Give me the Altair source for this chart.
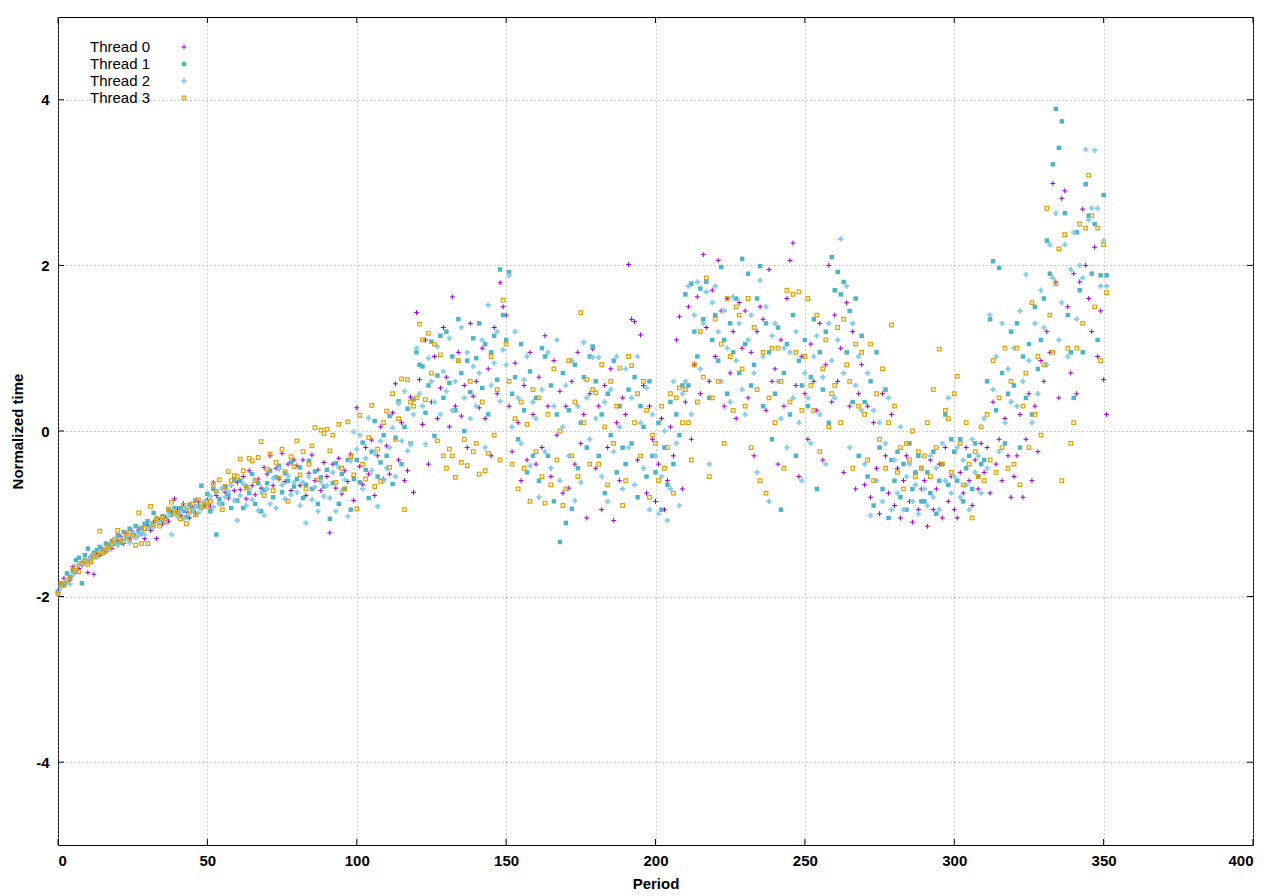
import altair as alt
import pandas as pd

thread_names = ["Thread 0", "Thread 1", "Thread 2", "Thread 3"]
periods = list(range(352))
x_ticks = [0, 50, 100, 150, 200, 250, 300, 350, 400]
y_ticks = [-4, -2, 0, 2, 4]

t0 = [
    -1.93, -1.87, -1.78, -1.83, -1.80, -1.64, -1.70, -1.66, -1.62, -1.58,
    -1.71, -1.52, -1.73, -1.48, -1.50, -1.43, -1.46, -1.38, -1.42, -1.36,
    -1.33, -1.28, -1.36, -1.25, -1.30, -1.22, -1.27, -1.19, -1.24, -1.30,
    -1.14, -1.20, -1.10, -1.30, -1.08, -1.12, -1.05, -1.09, -0.98, -0.82,
    -0.95, -1.02, -0.88, -0.97, -1.05, -0.92, -0.99, -0.86, -0.94, -0.90,
    -0.83, -0.91, -0.62, -0.78, -0.87, -0.70, -0.74, -0.81, -0.66, -0.72,
    -0.62, -0.71, -0.55, -0.82, -0.48, -0.66, -0.77, -0.58, -0.69, -0.44,
    -0.52, -0.30, -0.66, -0.45, -0.58, -0.27, -0.61, -0.40, -0.72, -0.35,
    -0.42, -0.66, -0.35, -0.78, -0.51, -0.29, -0.60, -0.47, -0.72, -0.38,
    -0.55, -1.23, -0.40, -0.69, -0.33, -0.76, -0.48, -0.61, -0.28, -0.84,
    0.28, -0.43, -0.65, -0.20, -0.52, -0.11, -0.78, -0.30, 0.05, -0.58,
    -0.18, -0.52, 0.22, 0.57, -0.35, 0.10, -0.60, -0.48, 0.41, -0.74,
    1.43, 0.62, 0.08, 1.10, -0.40, 0.35, 0.90, 0.15, 0.52, 1.25,
    0.65, 0.05, 1.62, 0.30, 0.95, 0.18, 0.55, -0.20, 1.30, 0.42,
    0.60, 0.28, 1.00, 0.15, 0.75, -0.30, 1.25, 0.45, 1.79, 1.50,
    1.40, 0.30, -0.25, 0.82, 0.10, -0.60, 0.55, -0.35, 0.95, 0.20,
    -0.40, 0.65, -0.20, 1.15, 0.30, -0.55, 0.85, -0.05, 0.48, -0.75,
    0.30, -0.69, 0.60, -0.40, 0.95, -0.15, 0.20, -1.05, 0.45, 0.99,
    -0.45, 0.30, -0.95, 0.55, -0.20, 0.75, -1.08, 0.10, -0.60, 0.40,
    0.20, 2.01, 1.35, 1.32, -0.35, 1.16, 0.55, -0.75, 0.30, -0.10,
    -0.85, -0.40, 0.15, -0.95, -0.60, 0.05, -0.30, 1.10, 1.38, -0.70,
    0.35, 1.50, -0.10, 0.80, 1.62, 0.45, 2.13, 1.25, 0.60, 1.70,
    0.90, 2.06, 1.45, 0.30, 1.60, 0.70, 1.20, 0.15, 1.55, 1.00,
    1.45, 0.40, 0.95, -0.30, 1.20, 1.50, 1.35, 0.25, 1.95, 0.60,
    0.75, -0.40, 1.10, 0.30, 1.60, 2.06, 2.27, 0.55, -0.55, 0.90,
    0.45, -0.10, 1.05, 0.60, 0.25, 1.30, -0.35, 0.80, 2.00, 0.35,
    1.40, 0.60, 1.00, -0.50, 1.55, 0.30, 1.20, -0.70, 0.45, 0.80,
    -0.65, 0.30, -0.80, 0.10, -0.45, -1.00, 0.45, -0.30, -0.75, 0.20,
    -0.90, -0.45, -1.05, -0.60, -0.30, -0.85, -1.10, -0.50, -0.95, -0.70,
    -0.60, -1.15, -0.35, -0.95, -0.70, -0.40, -1.05, -0.20, -0.85, -0.55,
    -0.95, -1.05, -0.50, -0.75, -0.20, -0.60, -0.90, -0.35, -0.70, -0.15,
    -0.50, -0.20, -0.75, 0.35, -0.40, -0.10, -0.60, 0.15, -0.30, -0.80,
    -0.55, -0.30, 0.20, -0.80, -0.10, 0.45, -0.60, 0.30, -0.25, 0.85,
    0.60, 1.20, 0.95, 2.99, 1.80, 0.40, 2.81, 2.90, 1.50, 0.70,
    1.90, 0.45, 1.80, 2.68, 2.00, 1.60, 1.20, 2.22, 0.90, 1.45,
    0.62, 0.20,
]

t1 = [
    -1.95, -1.84, -1.86, -1.72, -1.76, -1.69, -1.56, -1.53, -1.84, -1.50,
    -1.42, -1.55, -1.47, -1.44, -1.40, -1.45, -1.36, -1.39, -1.33, -1.35,
    -1.26, -1.35, -1.22, -1.28, -1.18, -1.24, -1.15, -1.21, -1.17, -1.12,
    -1.09, -1.15, -0.99, -1.06, -1.10, -1.03, -1.07, -0.96, -1.01, -0.93,
    -1.00, -0.93, -0.97, -1.04, -0.89, -0.95, -0.84, -0.91, -0.66, -0.87,
    -0.76, -0.97, -0.70, -1.25, -0.82, -0.88, -0.68, -0.77, -0.93, -0.59,
    -0.84, -0.60, -0.93, -0.67, -0.75, -0.52, -0.88, -0.63, -0.97, -0.71,
    -0.63, -0.48, -0.80, -0.56, -0.42, -0.74, -0.51, -0.60, -0.38, -0.67,
    -0.58, -0.44, -0.81, -0.65, -0.36, -0.70, -0.49, -0.88, -0.56, -0.67,
    -0.47, -1.06, -0.63, -0.39, -0.88, -0.52, -0.70, -0.35, -0.95, -0.58,
    -0.35, -0.62, -0.14, -0.47, -0.81, -0.25, 0.12, -0.55, -0.38, -0.05,
    -0.30, 0.18, -0.64, -0.08, 0.36, -0.40, 0.05, 0.27, -0.15, 0.38,
    0.95, 0.80, 0.78, 0.22, 0.55, 1.08, -0.06, 0.67, 1.15, 0.40,
    1.20, 0.58, 0.90, 0.25, 1.35, 0.70, 0.00, 0.85, 0.47, 1.12,
    0.88, 1.30, 0.52, 1.05, 0.20, 0.95, 1.15, 0.62, 1.95, 1.40,
    1.10, 1.92, 0.45, 0.65, -0.10, 1.05, 0.25, -0.50, 0.72, -0.30,
    0.40, -0.60, 1.00, 0.90, -0.30, 0.55, -0.85, 0.20, -1.34, 0.70,
    -1.11, 0.25, -0.94, 0.80, -0.45, 0.10, 0.65, -0.20, 0.90, 1.02,
    0.60, -0.30, 0.20, -0.75, 0.45, -0.05, 0.85, -0.50, 0.30, -0.20,
    -0.40, 0.50, -0.15, 0.65, -0.80, 0.30, 0.05, -0.55, 0.60, -0.30,
    -0.50, 0.10, -0.95, -0.20, -0.65, 0.35, -0.40, 0.20, -0.05, 0.55,
    1.65, 0.55, 1.78, 1.20, 0.90, 1.72, 1.35, 1.80, 0.40, 1.10,
    1.40, 0.85, 1.98, 1.10, 0.45, 1.30, 0.95, 1.60, 0.70, 2.08,
    1.05, 1.90, 0.55, 0.80, 1.60, 1.99, 0.30, 1.30, 0.95, -0.10,
    0.45, 1.25, -0.95, 0.70, 1.05, 0.20, 1.40, -0.30, 0.85, 0.55,
    1.10, 0.30, 0.65, 1.35, -0.70, 0.95, 0.50, 1.20, 0.10, 2.10,
    1.70, 1.92, 1.65, 1.80, 0.95, 1.45, 0.35, 1.60, -0.30, 1.15,
    0.35, -0.55, 0.60, -0.90, 0.95, -0.20, -0.70, 0.50, -1.05, -0.35,
    -0.60, -0.25, -0.80, -0.40, -0.95, -0.15, -0.70, -0.50, -0.30, -0.85,
    -0.85, -0.50, -0.75, -0.25, -1.00, -0.60, -0.40, 0.20, -0.65, -0.10,
    -0.25, -0.60, -0.10, -0.85, -0.45, -0.30, -0.70, -0.15, -0.55, -0.40,
    -0.35, 0.60, 1.35, 2.05, 0.25, 1.97, 0.70, -0.15, 0.45, 1.20,
    0.55, 1.30, -0.20, 0.90, 0.40, 1.05, 0.20, 1.50, 0.75, 1.10,
    1.60, 2.30, 1.90, 3.22, 3.89, 3.42, 3.74, 2.63, 1.40, 0.95,
    0.40, 2.40, 1.70, 0.95, 2.98, 2.60, 1.90, 2.50, 1.10, 1.88,
    2.85, 1.88,
]

t2 = [
    -1.96, -1.89, -1.82, -1.83, -1.85, -1.74, -1.68, -1.61, -1.59, -1.55,
    -1.57, -1.54, -1.50, -1.53, -1.46, -1.48, -1.41, -1.43, -1.38, -1.33,
    -1.38, -1.31, -1.33, -1.27, -1.35, -1.24, -1.29, -1.26, -1.22, -1.25,
    -1.18, -1.12, -1.16, -1.08, -1.11, -1.05, -1.09, -1.02, -1.25, -0.97,
    -1.03, -0.98, -1.06, -0.94, -1.00, -0.96, -0.91, -0.99, -0.93, -0.85,
    -0.86, -0.79, -0.92, -0.74, -0.88, -0.69, -0.80, -0.73, -0.65, -0.84,
    -1.08, -0.78, -0.64, -0.90, -0.70, -0.83, -0.59, -0.96, -0.74, -1.02,
    -0.70, -0.88, -0.57, -0.93, -0.46, -0.65, -0.82, -0.54, -0.77, -0.62,
    -0.74, -0.90, -0.62, -1.11, -0.55, -0.83, -0.68, -0.97, -0.61, -0.79,
    -0.66, -0.81, -0.50, -0.97, -0.44, -0.72, -0.59, -1.03, -0.36, -0.01,
    -0.22, -0.05, -0.70, -0.33, 0.16, -0.48, -0.27, -0.91, -0.12, -0.60,
    -0.45, -0.20, 0.04, -0.55, 0.33, -0.12, 0.48, -0.24, -0.16, 0.20,
    1.00, 0.45, 0.30, -0.16, 0.88, 0.60, 0.35, 1.02, 0.20, 0.72,
    0.48, 1.12, 0.25, 0.60, 0.85, 1.25, 0.40, 0.95, 0.15, 0.78,
    0.30, 0.70, 1.10, -0.20, 1.52, 0.55, 0.82, 1.20, 0.36, 0.98,
    0.80, 1.88, 0.05, 1.20, 0.40, -0.15, 0.62, 0.90, -0.42, 0.35,
    0.15, -0.80, 0.50, -0.25, 0.95, -0.45, 0.30, 1.10, -0.60, 0.05,
    0.55, -0.30, 0.85, -0.84, 0.30, -0.62, 1.07, 0.40, -0.10, 0.89,
    0.15, 0.89, -0.55, 0.35, -0.85, 0.50, -0.25, 0.90, 0.05, -0.70,
    0.75, -0.20, 0.40, -0.65, 0.90, 0.10, -0.45, 0.52, -0.95, 0.20,
    -0.30, -1.00, -0.55, 0.00, -1.08, -0.70, 0.60, -0.15, -0.90, 0.45,
    0.60, 1.75, 0.20, 1.40, 1.80, 0.75, 1.30, 1.68, -0.40, 1.55,
    1.75, 1.20, 0.60, 1.45, 1.00, 0.35, 1.62, 0.85, 1.30, 0.50,
    0.20, 1.10, 1.40, 0.70, -0.50, 1.82, 0.90, 1.50, -0.85, 1.15,
    1.30, 0.60, 0.15, 1.00, -0.20, 0.95, 0.40, 1.20, 0.10, -0.60,
    0.70, 0.40, -0.15, 0.90, 1.15, 0.20, 0.65, -0.40, 1.30, 0.85,
    0.40, 1.10, 2.32, 0.70, 1.75, -0.20, 1.30, 0.55, 0.90, 0.25,
    -0.40, 0.70, -1.02, 0.25, -0.60, 0.10, -0.85, -0.15, 0.40, -0.95,
    -0.35, -0.75, 0.05, -0.95, -0.55, -0.40, -0.85, -0.65, -1.00, -0.45,
    -0.70, -0.90, -0.30, -0.80, -0.45, -0.95, -0.15, -0.60, 0.40, -0.75,
    -0.55, -0.20, -0.80, -0.35, -0.65, -0.95, -0.10, -0.50, -0.30, -0.75,
    0.15, -0.45, 1.40, 0.50, 0.90, -0.25, 1.30, 0.10, 0.75, 0.35,
    1.00, 0.30, 1.45, 0.60, 1.89, 0.85, 0.10, 1.30, 0.45, 1.70,
    1.25, 0.80, 2.25, 1.85, 2.63, 1.10, 1.55, 2.25, 0.90, 1.95,
    2.40, 1.35, 2.00, 1.85, 3.40, 2.55, 2.69, 3.39, 2.69, 1.75,
    2.30, 1.75,
]

t3 = [
    -1.97, -1.85, -1.86, -1.80, -1.77, -1.68, -1.64, -1.70, -1.60, -1.57,
    -1.61, -1.58, -1.52, -1.49, -1.21, -1.47, -1.44, -1.40, -1.37, -1.31,
    -1.20, -1.34, -1.29, -1.23, -1.31, -1.26, -1.38, -0.99, -1.36, -1.18,
    -1.36, -0.91, -1.13, -1.06, -1.15, -1.04, -1.10, -0.94, -0.86, -0.99,
    -0.98, -1.06, -0.90, -1.12, -0.96, -0.88, -1.01, -0.83, -0.92, -0.89,
    -0.91, -0.85, -0.64, -0.73, -0.59, -0.95, -0.67, -0.49, -0.60, -0.54,
    -0.55, -0.34, -0.48, -0.69, -0.33, -0.36, -0.60, -0.32, -0.13, -0.78,
    -0.46, -0.28, -0.72, -0.38, -0.57, -0.22, -0.49, -0.85, -0.31, -0.43,
    -0.12, -0.53, -0.25, -0.70, -0.40, -0.18, 0.04, -0.59, 0.01, -0.03,
    0.02, -0.24, -0.05, -0.62, 0.08, -0.45, -0.70, 0.11, -0.31, -0.53,
    -0.94, 0.19, -0.40, -0.58, -0.08, 0.31, -0.67, -0.22, -0.61, 0.10,
    0.24, -0.44, 0.45, -0.10, 0.15, 0.63, -0.95, 0.62, 0.35, 0.30,
    0.40, 1.29, 1.10, 0.38, 1.18, 0.70, 1.05, -0.12, 0.92, -0.30,
    -0.45, -0.22, -0.30, -0.56, 0.85, -0.38, -0.10, -0.42, 0.60, -0.25,
    -0.15, -0.52, 0.35, -0.48, -0.27, 0.90, -0.05, 0.50, -0.35, 1.58,
    1.05, 0.60, -0.40, 0.15, -0.70, 0.35, -0.45, 0.08, -0.85, 0.50,
    -0.25, 0.40, -0.55, -0.87, 0.20, -0.65, 0.75, -0.35, 0.00, -0.90,
    -0.70, 0.85, -0.30, 0.35, -0.55, 1.43, 0.10, 0.62, -0.40, 0.50,
    0.46, -0.40, 0.80, 0.05, -0.65, 0.60, -0.15, 0.30, 0.76, -0.90,
    -0.60, 0.90, 0.79, 0.10, 0.45, -0.30, 0.60, 0.25, -0.80, -0.05,
    -0.15, -0.60, 0.30, -0.45, -0.20, 0.45, -0.75, 0.40, 0.52, 0.10,
    0.50, 0.10, -0.35, 0.80, 0.35, 1.20, 0.65, 1.85, -0.55, 0.40,
    1.35, 0.60, 1.05, -0.15, 1.60, 0.90, 0.25, 1.50, 1.40, 0.75,
    0.30, 1.60, -0.20, 1.25, 0.50, -0.60, 0.95, -0.75, 0.40, 1.00,
    0.10, 1.00, 0.60, -0.45, 1.70, 0.35, 1.65, 0.95, 1.68, 0.25,
    0.90, 1.60, 0.55, 0.25, 1.40, -0.25, 0.75, 1.10, 0.05, 0.45,
    0.55, 1.25, 0.10, 1.35, 0.80, 0.60, -0.45, 1.05, 0.30, 0.95,
    0.20, -0.35, 1.05, -0.60, 0.45, -0.10, 0.75, -0.45, 0.10, 1.28,
    0.30, -0.50, -0.20, -0.70, -0.15, -0.35, 0.00, -0.55, -0.25, -0.45,
    -0.30, 0.10, -0.55, 0.50, -0.20, 0.99, -0.40, 0.25, 0.15, -0.50,
    0.45, 0.66, -0.15, -0.65, 0.10, -0.40, -1.05, -0.25, -0.55, 0.05,
    -0.60, 0.20, -0.35, 0.85, -0.50, 0.40, -0.20, 1.00, -0.45, 0.60,
    -0.40, 1.00, -0.65, 0.30, 0.70, -0.20, 1.55, 0.20, 0.90, -0.05,
    0.80, 2.69, 1.40, 0.95, 1.78, 2.20, -0.60, 2.37, 1.00, -0.15,
    0.10, 1.00, 2.50, 1.30, 2.45, 3.09, 2.60, 1.50, 2.45, 0.85,
    2.25, 1.67,
]

series = [t0, t1, t2, t3]
rows = []
for name, vals in zip(thread_names, series):
    assert len(vals) == len(periods), (name, len(vals))
    for p, v in zip(periods, vals):
        rows.append({"period": p, "value": v, "Thread": name})
df = pd.DataFrame(rows)

W, H = 1195, 828
FONT = "Liberation Sans"

plus_path = "M-1,0L1,0M0,-1L0,1"
styles = {
    "Thread 0": dict(shape=plus_path, filled=False, color="#9400d3", size=25, strokeWidth=1, opacity=1),
    "Thread 1": dict(shape="square", filled=True, color="#4db5c5", size=20, opacity=1),
    "Thread 2": dict(shape="cross", filled=True, color="#8acdea", size=28, opacity=1),
    "Thread 3": dict(shape="square", filled=False, color="#e69f00", size=13, strokeWidth=1.2, opacity=1),
}

axis_common = dict(
    labelFont=FONT, labelFontSize=15, labelFontWeight="bold", labelColor="black",
    titleFont=FONT, titleFontSize=15, titleFontWeight="bold", titleColor="black",
    ticks=False, domain=False, grid=True, gridColor="#a0a0a0", gridDash=[1, 3],
    gridWidth=1, gridOpacity=1,
)

x_scale = alt.Scale(domain=[0, 400], nice=False, zero=False)
y_scale = alt.Scale(domain=[-5, 5], nice=False, zero=False)
x_enc = alt.X("period:Q", scale=x_scale,
              axis=alt.Axis(values=x_ticks, title="Period", labelPadding=8, titlePadding=8,
                            **axis_common))
y_enc = alt.Y("value:Q", scale=y_scale,
              axis=alt.Axis(values=y_ticks, title="Normalized time", labelExpr="datum.value",
                            labelPadding=9, titlePadding=10, **axis_common))

point_layers = []
for name in thread_names:
    point_layers.append(
        alt.Chart(df).transform_filter(alt.datum.Thread == name)
        .mark_point(**styles[name]).encode(x=x_enc, y=y_enc)
    )

xt = pd.DataFrame({"period": x_ticks})
yt = pd.DataFrame({"value": y_ticks})
tick_layers = [
    alt.Chart(xt).mark_rule(color="black", strokeWidth=1).encode(x=x_enc, y=alt.value(H), y2=alt.value(H - 6)),
    alt.Chart(xt).mark_rule(color="black", strokeWidth=1).encode(x=x_enc, y=alt.value(0), y2=alt.value(6)),
    alt.Chart(yt).mark_rule(color="black", strokeWidth=1).encode(y=y_enc, x=alt.value(0), x2=alt.value(6)),
    alt.Chart(yt).mark_rule(color="black", strokeWidth=1).encode(y=y_enc, x=alt.value(W), x2=alt.value(W - 6)),
]

main = alt.layer(*point_layers, *tick_layers)

leg = pd.DataFrame({"Thread": thread_names, "row": [0, 1, 2, 3]})
ly = alt.Y("row:Q", scale=alt.Scale(domain=[0, 3], range=[30, 81]), axis=None)
leg_text = alt.Chart(leg).mark_text(align="left", baseline="middle", font=FONT, fontSize=15,
                                    color="black").encode(x=alt.value(32), y=ly, text="Thread:N")
leg_syms = [
    alt.Chart(leg).transform_filter(alt.datum.Thread == name)
    .mark_point(**styles[name]).encode(x=alt.value(126), y=ly)
    for name in thread_names
]
legend = alt.layer(leg_text, *leg_syms)

chart = (
    alt.layer(main, legend)
    .resolve_scale(y="independent")
    .properties(width=W, height=H, autosize=alt.AutoSizeParams(type="none"),
                padding={"left": 50, "top": 9, "right": 10, "bottom": 45},
                background="white")
    .configure_view(stroke="black", strokeWidth=1)
)

chart.save("out.html", embed_options={"renderer": "svg", "actions": False})
